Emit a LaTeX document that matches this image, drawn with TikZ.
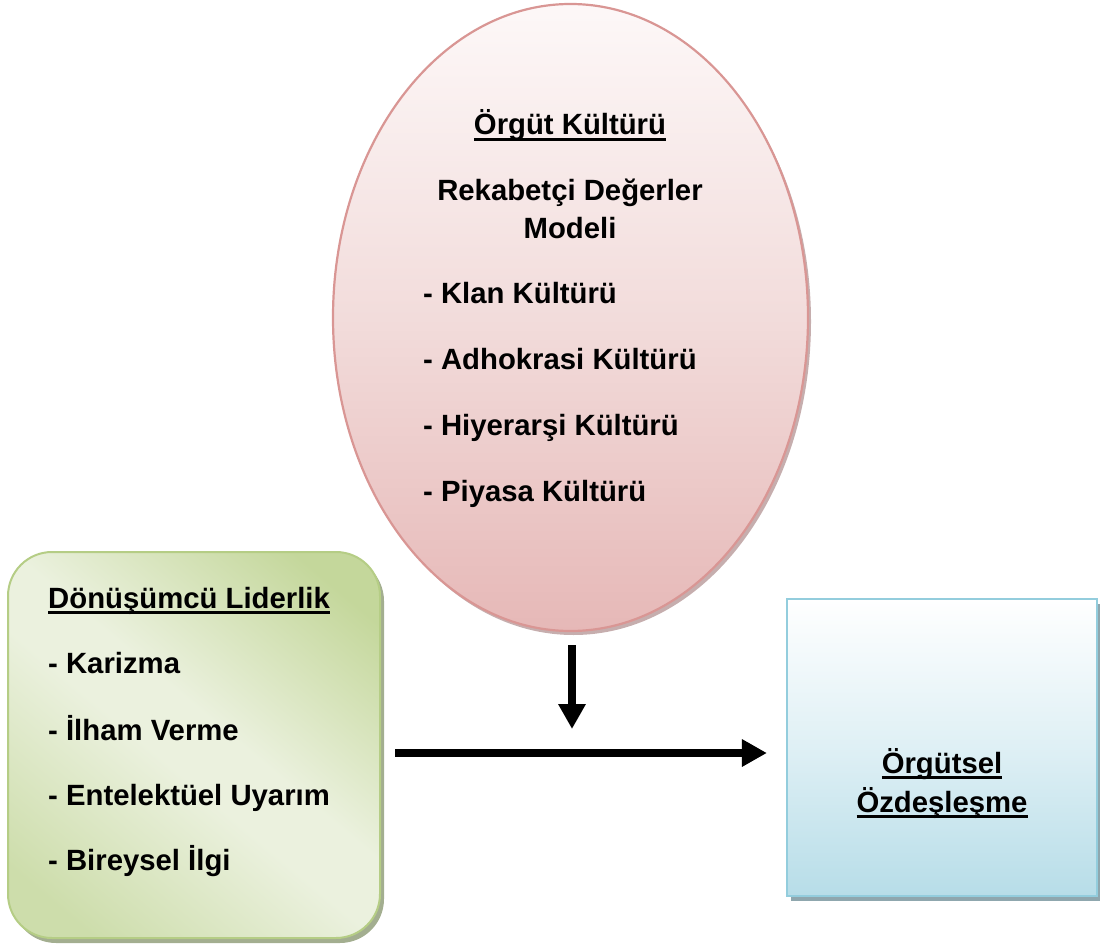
\documentclass[tikz,border=0pt]{standalone}
\usepackage{fontspec}
\setmainfont{Liberation Sans}
\usetikzlibrary{arrows.meta,shapes.geometric,shadows}

\definecolor{roseTop}{HTML}{FDF8F8}
\definecolor{roseMid}{HTML}{F2DCDB}
\definecolor{roseBot}{HTML}{E6B8B7}
\definecolor{roseLine}{HTML}{D99694}
\definecolor{roseShadow}{HTML}{B89A9A}
\definecolor{greenDark}{HTML}{C4D79B}
\definecolor{greenLight}{HTML}{EBF1DE}
\definecolor{greenLow}{HTML}{CDDDAB}
\definecolor{greenLine}{HTML}{B5CD85}
\definecolor{greenShadow}{HTML}{A3AE90}
\definecolor{blueBot}{HTML}{B7DDE8}
\definecolor{blueLine}{HTML}{93CDDD}
\definecolor{blueShadow}{HTML}{8FA7AE}

% diagonal green fill: darker at two opposite corners, pale band between
\pgfdeclareverticalshading{leafshade}{100bp}{%
  color(0bp)=(greenLow); color(22bp)=(greenLow); color(46bp)=(greenLight);
  color(54bp)=(greenLight); color(78bp)=(greenDark); color(100bp)=(greenDark)}

% underline that runs through descenders
\newcommand\ulword[1]{\setbox0\hbox{#1}\rlap{\raisebox{-6pt}{\rule{\wd0}{2.6pt}}}\box0}

\tikzset{
  lbl/.style={inner sep=0pt, font=\fontsize{29.3}{34}\bfseries\selectfont},
  bigarrow/.style={line width=8.5pt, -{Triangle[width=26pt,length=25pt]}},
}

\begin{document}
\begin{tikzpicture}[x=1pt,y=-1pt]
\useasboundingbox (0,0) rectangle (1100,949);

% culture ellipse
\node[ellipse, minimum width=475pt, minimum height=627pt, inner sep=0pt,
      draw=roseLine, line width=2.2pt,
      top color=roseTop, bottom color=roseBot, middle color=roseMid,
      drop shadow={shadow xshift=3pt, shadow yshift=-4pt, fill=roseShadow, opacity=0.8}]
  (kultur) at (570.5,317.5) {};

% leadership box
\node[rectangle, rounded corners=44pt, minimum width=372pt, minimum height=386pt,
      inner sep=0pt, draw=greenLine, line width=2pt,
      shade, shading=leafshade, shading angle=-40,
      drop shadow={shadow xshift=4pt, shadow yshift=-5pt, fill=greenShadow, opacity=1}]
  (lider) at (194,745) {};

% identification box
\node[rectangle, minimum width=310pt, minimum height=297pt, inner sep=0pt,
      draw=blueLine, line width=2.2pt,
      top color=white, bottom color=blueBot, middle color=blueBot!45!white,
      drop shadow={shadow xshift=4pt, shadow yshift=-5pt, fill=blueShadow, opacity=1}]
  (ozdes) at (942,747.5) {};

% ellipse texts
\node[lbl, anchor=base] (k1) at (570,135) {\ulword{Örgüt Kültürü}};
\node[lbl, anchor=base] (k2) at (570,201) {Rekabetçi Değerler};
\node[lbl, anchor=base] (k3) at (570,239) {Modeli};
\node[lbl, anchor=base west] (k4) at (423,304) {- Klan Kültürü};
\node[lbl, anchor=base west] (k5) at (423,370) {- Adhokrasi Kültürü};
\node[lbl, anchor=base west] (k6) at (423,435) {- Hiyerarşi Kültürü};
\node[lbl, anchor=base west] (k7) at (423,501) {- Piyasa Kültürü};

% leadership texts
\node[lbl, anchor=base west] (l1) at (48,608) {\ulword{Dönüşümcü Liderlik}};
\node[lbl, anchor=base west] (l2) at (48,673) {- Karizma};
\node[lbl, anchor=base west] (l3) at (48,740) {- İlham Verme};
\node[lbl, anchor=base west] (l4) at (48,805) {- Entelektüel Uyarım};
\node[lbl, anchor=base west] (l5) at (48,870) {- Bireysel İlgi};

% identification texts
\node[lbl, anchor=base] (o1) at (942,773) {\ulword{Örgütsel}};
\node[lbl, anchor=base] (o2) at (942,812) {\ulword{Özdeşleşme}};

% arrows
\coordinate (vtip) at (572,729);
\coordinate (hstart) at ([xshift=14pt]lider.east |- 0,753);
\coordinate (hend) at ([xshift=-19pt]ozdes.west |- 0,753);
\draw[bigarrow] ([yshift=-13pt]kultur.south -| vtip) -- (vtip);
\draw[bigarrow] (hstart) -- (hend);
\end{tikzpicture}
\end{document}
